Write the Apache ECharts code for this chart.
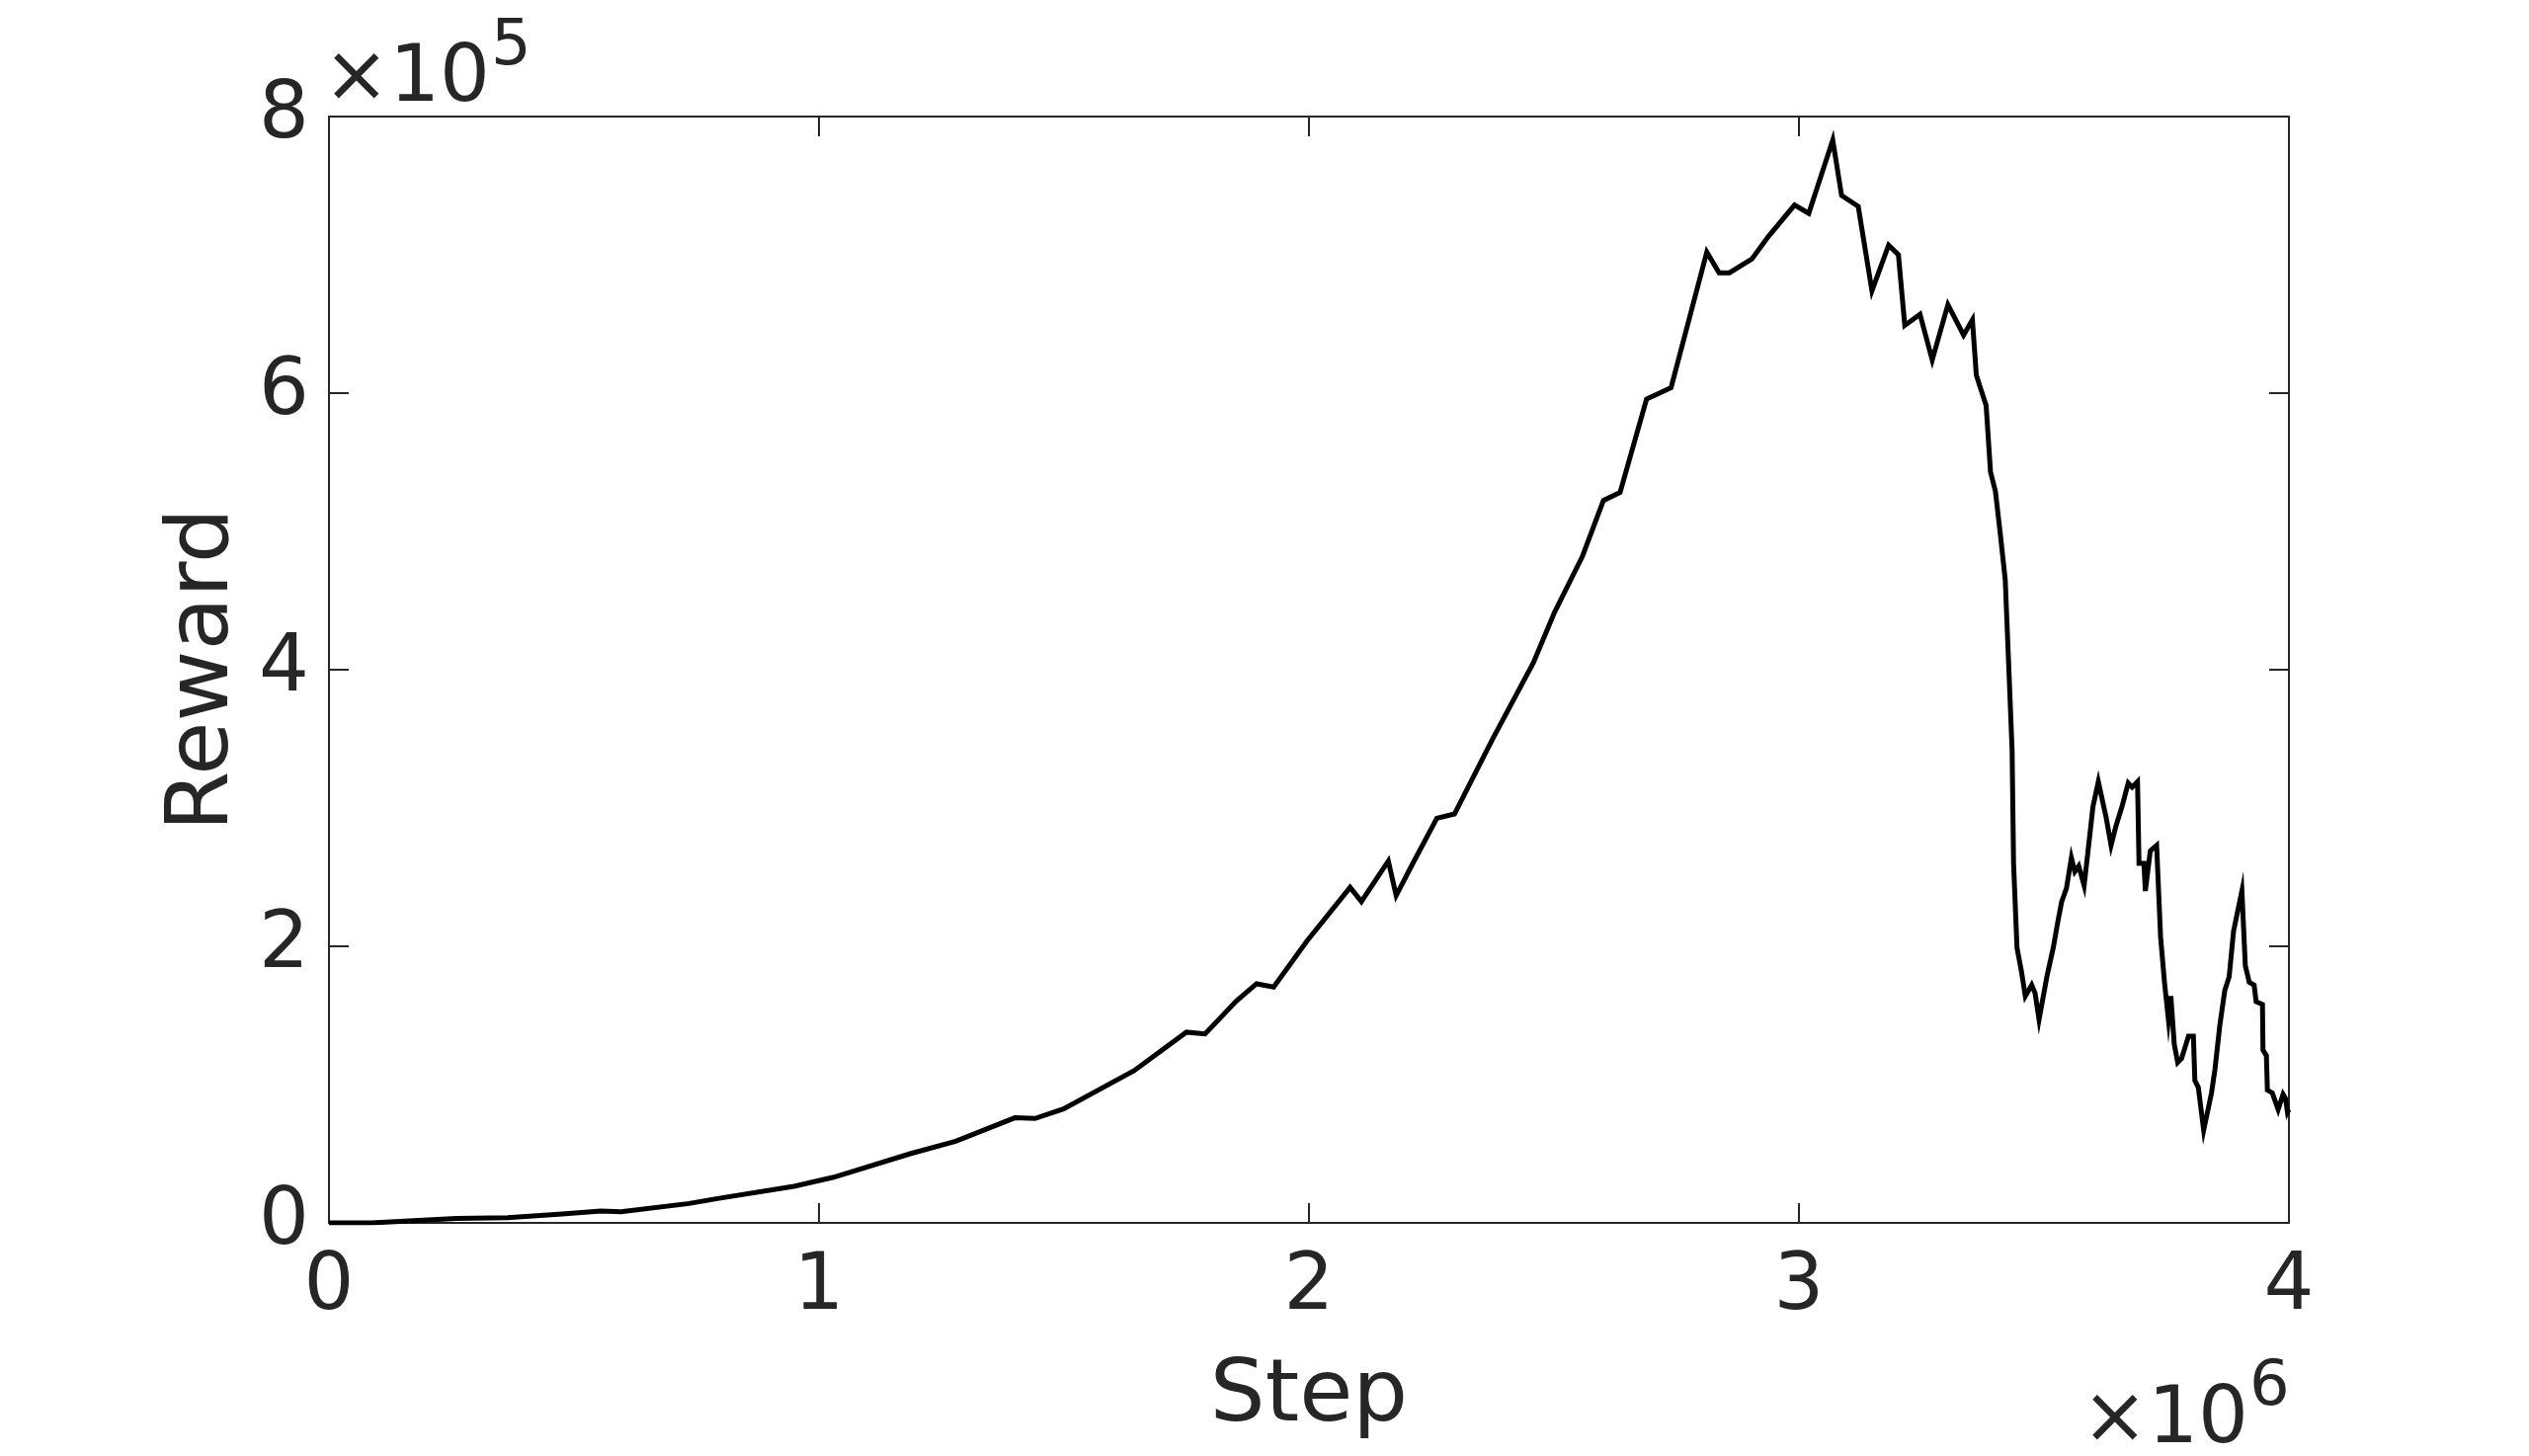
<!DOCTYPE html>
<html>
<head>
<meta charset="utf-8">
<title>Reward vs Step</title>
<script src="https://cdn.jsdelivr.net/npm/echarts@6/dist/echarts.min.js"></script>
<style>
  html, body { margin: 0; padding: 0; background: #fff; }
  #chart { width: 2560px; height: 1474px; }
</style>
</head>
<body>
<div id="chart"></div>
<script>
// step values in units of 1e6, reward in units of 1e5
const steps = [
  0.000, 0.087, 0.260, 0.364, 0.469, 0.555, 0.596, 0.735, 0.793, 0.949,
  1.030, 1.186, 1.279, 1.400, 1.441, 1.499, 1.643, 1.750, 1.788, 1.852,
  1.893, 1.928, 1.995, 2.084, 2.107, 2.162, 2.178, 2.211, 2.261, 2.297,
  2.373, 2.458, 2.501, 2.558, 2.601, 2.635, 2.689, 2.739, 2.812, 2.837,
  2.858, 2.904, 2.937, 2.991, 3.020, 3.069, 3.087, 3.121, 3.149, 3.183,
  3.203, 3.216, 3.247, 3.272, 3.304, 3.336, 3.354, 3.362, 3.371, 3.382,
  3.391, 3.401, 3.411, 3.421, 3.428, 3.435, 3.438, 3.445, 3.454, 3.462,
  3.475, 3.482, 3.490, 3.506, 3.519, 3.529, 3.536, 3.546, 3.556, 3.563,
  3.571, 3.582, 3.590, 3.600, 3.611, 3.627, 3.637, 3.647, 3.660, 3.672,
  3.680, 3.691, 3.694, 3.704, 3.707, 3.717, 3.730, 3.738, 3.746, 3.754,
  3.759, 3.766, 3.773, 3.781, 3.795, 3.805, 3.808, 3.815, 3.826, 3.842,
  3.849, 3.859, 3.869, 3.878, 3.887, 3.904, 3.911, 3.919, 3.929, 3.933,
  3.946, 3.947, 3.954, 3.956, 3.966, 3.978, 3.988, 3.993, 3.997, 4.000
]
const rewards = [
  0.000, 0.000, 0.033, 0.038, 0.062, 0.086, 0.081, 0.140, 0.176, 0.264,
  0.330, 0.500, 0.590, 0.760, 0.755, 0.824, 1.100, 1.379, 1.366, 1.605,
  1.729, 1.705, 2.034, 2.426, 2.324, 2.617, 2.367, 2.593, 2.926, 2.957,
  3.486, 4.050, 4.414, 4.819, 5.224, 5.283, 5.957, 6.040, 7.020, 6.870,
  6.870, 6.970, 7.130, 7.360, 7.300, 7.830, 7.430, 7.350, 6.740, 7.070,
  7.000, 6.490, 6.570, 6.240, 6.640, 6.420, 6.530, 6.130, 6.030, 5.910,
  5.430, 5.290, 4.980, 4.650, 4.040, 3.420, 2.600, 1.990, 1.820, 1.640,
  1.720, 1.660, 1.470, 1.780, 1.990, 2.190, 2.320, 2.420, 2.640, 2.540,
  2.580, 2.440, 2.690, 3.010, 3.190, 2.930, 2.730, 2.870, 3.020, 3.180,
  3.150, 3.190, 2.600, 2.600, 2.400, 2.690, 2.730, 2.070, 1.740, 1.470,
  1.640, 1.290, 1.160, 1.190, 1.350, 1.350, 1.030, 0.980, 0.670, 0.940,
  1.110, 1.430, 1.680, 1.780, 2.110, 2.400, 1.860, 1.740, 1.720, 1.600,
  1.580, 1.250, 1.210, 0.960, 0.940, 0.820, 0.930, 0.900, 0.800, 0.820
]
const xTicks = [0, 1, 2, 3, 4]
const yTicks = [0, 2, 4, 6, 8]

const textColor = '#262626'
const fontFamily = 'DejaVu Sans'

const chart = echarts.init(document.getElementById('chart'))

const seriesData = steps.map((s, i) => [s, rewards[i]])

const boxLine = { show: true, onZero: false, lineStyle: { color: textColor, width: 2 } }
const boxTick = { show: true, inside: true, length: 20, lineStyle: { color: textColor, width: 2 } }

chart.setOption({
  animation: false,
  backgroundColor: '#fff',
  grid: {
    left: 333,
    right: 243,
    top: 118,
    bottom: 236
  },
  xAxis: [
    {
      type: 'value',
      min: xTicks[0],
      max: xTicks[xTicks.length - 1],
      interval: 1,
      name: 'Step',
      nameLocation: 'middle',
      nameGap: 133,
      nameTextStyle: { color: textColor, fontSize: 88, fontFamily: fontFamily },
      axisLine: boxLine,
      axisTick: boxTick,
      axisLabel: { color: textColor, fontSize: 80, fontFamily: fontFamily, margin: 26 },
      splitLine: { show: false }
    },
    {
      type: 'value',
      position: 'top',
      min: xTicks[0],
      max: xTicks[xTicks.length - 1],
      interval: 1,
      axisLine: boxLine,
      axisTick: boxTick,
      axisLabel: { show: false },
      splitLine: { show: false }
    }
  ],
  yAxis: [
    {
      type: 'value',
      min: yTicks[0],
      max: yTicks[yTicks.length - 1],
      interval: 2,
      name: 'Reward',
      nameLocation: 'middle',
      nameGap: 67,
      nameTextStyle: { color: textColor, fontSize: 88, fontFamily: fontFamily },
      axisLine: boxLine,
      axisTick: boxTick,
      axisLabel: { color: textColor, fontSize: 80, fontFamily: fontFamily, margin: 20 },
      splitLine: { show: false }
    },
    {
      type: 'value',
      position: 'right',
      min: yTicks[0],
      max: yTicks[yTicks.length - 1],
      interval: 2,
      axisLine: boxLine,
      axisTick: boxTick,
      axisLabel: { show: false },
      splitLine: { show: false }
    }
  ],
  series: [
    {
      type: 'line',
      data: seriesData,
      showSymbol: false,
      symbol: 'none',
      lineStyle: { color: '#000', width: 5, join: 'miter' },
      z: 1
    }
  ],
  graphic: [
    // y axis exponent
    {
      type: 'text',
      style: { text: '×10', x: 496, y: 81, fill: textColor, font: '80px "DejaVu Sans"', textAlign: 'right', textVerticalAlign: 'middle' }
    },
    {
      type: 'text',
      style: { text: '5', x: 497, y: 48, fill: textColor, font: '64px "DejaVu Sans"', textAlign: 'left', textVerticalAlign: 'middle' }
    },
    // x axis exponent
    {
      type: 'text',
      style: { text: '×10', x: 2276, y: 1439, fill: textColor, font: '80px "DejaVu Sans"', textAlign: 'right', textVerticalAlign: 'middle' }
    },
    {
      type: 'text',
      style: { text: '6', x: 2277, y: 1405, fill: textColor, font: '64px "DejaVu Sans"', textAlign: 'left', textVerticalAlign: 'middle' }
    }
  ]
})
</script>
</body>
</html>
